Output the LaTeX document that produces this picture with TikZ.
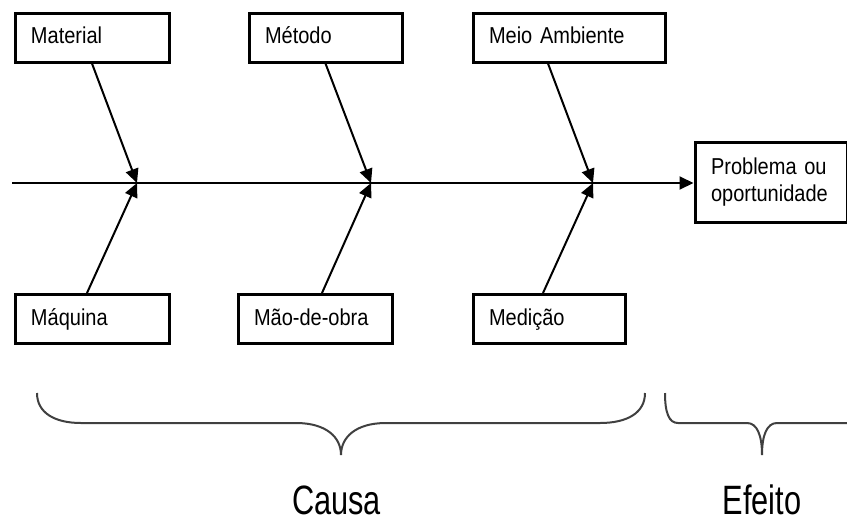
\documentclass[tikz,border=0pt]{standalone}
\usepackage{fontspec}
\setmainfont{Liberation Sans}
\newfontfamily\boxfont[FakeStretch=0.87]{Liberation Sans}
\newfontfamily\bracefont[FakeStretch=0.75]{Liberation Sans}
\usetikzlibrary{arrows.meta}

\begin{document}
\begin{tikzpicture}[x=0.5pt, y=-0.5pt,
    cause/.style={draw, line width=1.5pt, inner xsep=8pt, inner ysep=0pt,
        minimum height=24.5pt, text width=#1, align=left,
        text height=8.5pt, text depth=2.5pt,
        font=\boxfont\fontsize{11.5}{13.5}\selectfont},
    effect/.style={draw, line width=1.5pt, inner xsep=8pt, inner ysep=0pt,
        minimum height=40pt, text width=60pt, align=left,
        font=\boxfont\fontsize{11.5}{13.5}\selectfont},
    bone/.style={-{Triangle[length=7pt,width=6.5pt]}, line width=1pt},
    brace/.style={line width=1pt, black!75},
    bracelabel/.style={anchor=base, font=\bracefont\fontsize{20.5}{24}\selectfont}]
    \useasboundingbox (0,0) rectangle (847,526);
    \node[cause=61pt] (mat) at (92,37.5) {Material};
    \node[cause=60.5pt] (met) at (325.5,37.5) {Método};
    \node[cause=80pt] (amb) at (569,37.5) {Meio Ambiente};
    \node[cause=61pt] (maq) at (92,319) {Máquina};
    \node[cause=61pt] (mao) at (315,319) {Mão-de-obra};
    \node[cause=60pt] (med) at (549,319) {Medição};
    \node[effect] (prob) at (771,182) {Problema ou\\oportunidade};
    \coordinate (tail) at (12,183);
    \coordinate (j1) at (137,183);
    \coordinate (j2) at (371,183);
    \coordinate (j3) at (593,183);
    \draw[bone] (tail) -- (prob.west |- tail);
    \draw[bone] (mat.south) -- (j1);
    \draw[bone] (met.south) -- (j2);
    \draw[bone] ([xshift=-10.5pt]amb.south) -- (j3);
    \draw[bone] ([xshift=-2.5pt]maq.north) -- (j1);
    \draw[bone] ([xshift=3.5pt]mao.north) -- (j2);
    \draw[bone] ([xshift=-3pt]med.north) -- (j3);
    \draw[brace] (37,393) .. controls (37,413) and (55,423) .. (81,423) -- (296,423)
        .. controls (326,423) and (341,437) .. (341,455)
        .. controls (341,437) and (356,423) .. (386,423) -- (600,423)
        .. controls (627,423) and (645,413) .. (645,393);
    \draw[brace] (665,393) .. controls (665,413) and (669,423) .. (678,423) -- (747,423)
        .. controls (757,423) and (762,435) .. (762,455)
        .. controls (762,435) and (767,423) .. (777,423) -- (847,423);
    \node[bracelabel] (causa) at (336.5,514) {Causa};
    \node[bracelabel] (efeito) at (762,514) {Efeito};
\end{tikzpicture}
\end{document}
